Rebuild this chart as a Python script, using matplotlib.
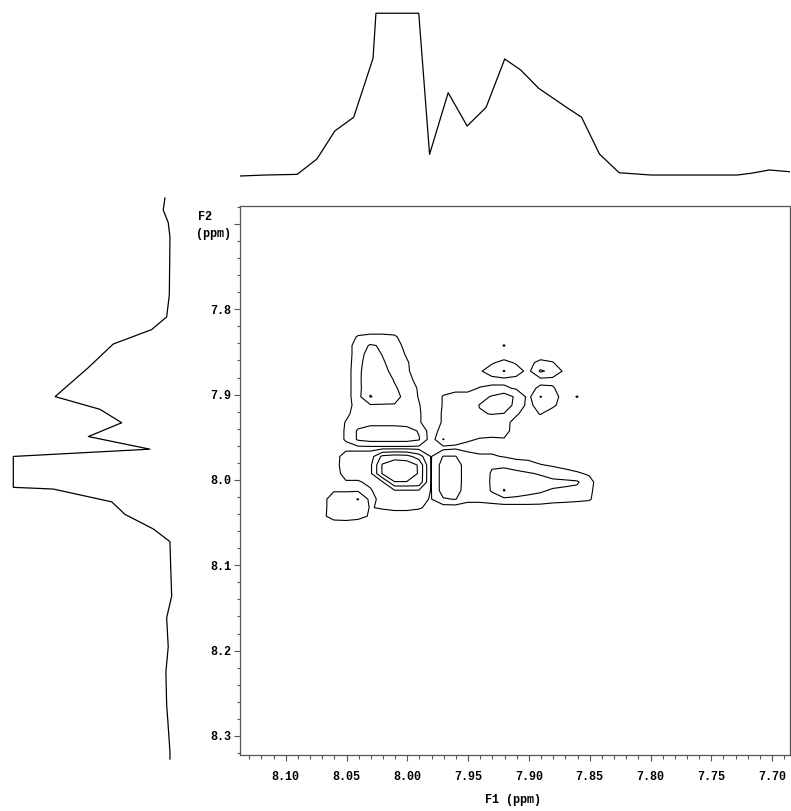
import numpy as np
import matplotlib
matplotlib.use("Agg")
import matplotlib.pyplot as plt
from matplotlib.ticker import MultipleLocator, FormatStrFormatter, FuncFormatter

# --- 2D spectrum: coarse intensity matrix (rows = F2, cols = F1) ---
f1_ppm = np.linspace(8.0705, 7.8305, 25)
f2_ppm = np.linspace(7.8125, 8.0625, 26)

rows = [
    "0 0 0 0 0 0 0 0 0 0 0 0 0 0 0 0 0 0 0 0 0 0 0 0 0",
    "0 0 0 0 0 0 0 0 0 0 0 0 0 0 0 0 0 0 0 0 0 0 0 0 0",
    "0 0 0 12 15 15 13 0 0 0 0 0 0 0 0 0 0 0 0 0 0 0 0 0 0",
    "0 0 0 20 32 28 24 0 0 0 0 0 0 0 0 11 0 0 0 0 0 0 0 0 0",
    "0 0 0 20 40 29 20 8 0 0 0 0 0 0 0 0 0 0 0 0 0 0 0 0 0",
    "0 0 0 22 44 33 20 12 0 0 0 0 0 0 8 15 8 5 15 11 0 0 0 0 0",
    "0 0 0 24 46 40 20 13 0 0 0 0 0 8 18 31 18 5 33 24 6 0 0 0 0",
    "0 0 0 24 48 45 28 20 0 0 0 0 0 3 5 5 5 5 5 5 3 0 0 0 0",
    "0 0 0 24 46 45 33 20 8 0 5 5 5 11 13 13 8 5 13 12 0 0 0 0 0",
    "0 0 0 24 51 44 40 20 9 0 11 16 16 22 32 42 26 5 31 20 0 11 0 0 0",
    "0 0 0 20 28 28 28 20 11 0 11 16 18 31 45 45 22 5 18 14 0 0 0 0 0",
    "0 0 6 18 20 20 20 18 12 0 12 15 16 28 31 29 12 3 11 0 0 0 0 0 0",
    "0 0 11 20 20 20 20 20 12 0 12 15 15 16 16 15 5 0 0 0 0 0 0 0 0",
    "0 0 12 33 45 45 45 40 28 0 18 18 16 16 16 15 4 0 0 0 0 0 0 0 0",
    "0 0 12 33 38 38 38 38 32 0 31 16 12 9 8 9 0 0 0 0 0 0 0 0 0",
    "0 0 4 4 4 4 4 4 4 3 4 7 5 5 5 4 0 0 0 0 0 0 0 0 0",
    "0 0 20 20 20 55 60 58 40 9 31 31 16 12 12 9 5 5 0 0 0 0 0 0 0",
    "0 0 22 22 25 72 85 82 68 9 40 42 18 18 28 26 20 16 11 8 5 3 0 0 0",
    "0 0 18 18 25 72 88 85 68 9 40 42 18 18 32 38 36 32 28 20 16 12 8 0 0",
    "0 0 8 8 14 28 69 69 66 9 40 42 18 16 33 45 42 40 38 36 35 33 16 0 0",
    "0 8 8 8 8 20 28 28 28 9 40 40 18 16 32 51 40 34 32 28 26 24 14 0 0",
    "0 23 22 31 5 15 20 20 14 9 28 31 16 16 20 26 26 26 24 18 16 14 12 0 0",
    "7 14 20 20 9 12 15 15 12 5 0 0 0 0 0 0 0 0 0 0 0 0 0 0 0",
    "5 18 20 16 8 0 0 0 0 0 0 0 0 0 0 0 0 0 0 0 0 0 0 0 0",
    "0 0 0 0 0 0 0 0 0 0 0 0 0 0 0 0 0 0 0 0 0 0 0 0 0",
    "0 0 0 0 0 0 0 0 0 0 0 0 0 0 0 0 0 0 0 0 0 0 0 0 0",
]
intensity = np.array([[float(v) for v in r.split()] for r in rows])
levels = [10, 30, 50, 70]

# --- F1 projection (top trace), clipped peak shown flat ---
proj_f1_ppm = [8.1376, 8.1170, 8.0906, 8.0744, 8.0596, 8.0441, 8.0282, 8.0258,
               7.9906, 7.9817, 7.9664, 7.9508, 7.9352, 7.9199, 7.9067, 7.8920,
               7.8699, 7.8567, 7.8420, 7.8258, 7.7994, 7.7288, 7.7170, 7.7023,
               7.6853]
proj_f1_val = [0.0, 0.6, 1.0, 10.4, 27.7, 36.1, 72.3, 100.0,
               100.0, 13.3, 51.2, 30.7, 42.2, 71.9, 65.1, 53.9,
               42.6, 36.1, 13.5, 2.0, 0.6, 0.6, 1.7, 3.7,
               2.6]

# --- F2 projection (left trace) ---
proj_f2_ppm = [7.6696, 7.6837, 7.6984, 7.7153, 7.7833, 7.8089, 7.8238, 7.8407,
               7.8683, 7.9023, 7.9172, 7.9329, 7.9491, 7.9639, 7.9724, 8.0086,
               8.0106, 8.0256, 8.0403, 8.0574, 8.0722, 8.0977, 8.1359, 8.1615,
               8.1955, 8.2250, 8.2634, 8.2888, 8.3186, 8.3269]
proj_f2_val = [3.2, 4.3, 1.1, 0.0, 0.4, 2.1, 11.7, 36.2,
               52.1, 73.3, 44.7, 30.8, 52.1, 12.8, 100.0, 100.0,
               74.5, 37.2, 28.7, 10.6, 0.0, -0.4, -1.1, 2.1,
               1.1, 2.6, 2.1, 1.1, 0.0, 0.0]

W, H = 791, 811
fig = plt.figure(figsize=(W / 100, H / 100), dpi=100)
mono = {"family": ["Liberation Mono", "DejaVu Sans Mono"], "weight": "bold", "size": 8.5}
frame_col = "#555555"

ax = fig.add_axes([240 / W, 1 - 755 / H, 550 / W, 549 / H])
X, Y = np.meshgrid(f1_ppm, f2_ppm)
ax.contour(X, Y, intensity, levels=levels, colors="black", linewidths=0.8)
ax.set_xlim(8.1376, 7.6853)
ax.set_ylim(8.3223, 7.679)

ax.xaxis.set_major_locator(MultipleLocator(0.05))
ax.xaxis.set_minor_locator(MultipleLocator(0.01))
ax.yaxis.set_major_locator(MultipleLocator(0.1))
ax.yaxis.set_minor_locator(MultipleLocator(0.02))
ax.xaxis.set_major_formatter(FormatStrFormatter("%.2f"))
# the top y tick sits beside the "(ppm)" unit label, so it carries no number
ax.yaxis.set_major_formatter(FuncFormatter(lambda v, p: "" if v < 7.75 else f"{v:.1f}"))
ax.tick_params(axis="both", which="both", direction="out", color=frame_col, width=0.8)
ax.tick_params(axis="x", which="major", length=4.5, pad=7)
ax.tick_params(axis="x", which="minor", length=2.8)
ax.tick_params(axis="y", which="major", length=4.5, pad=1.5)
ax.tick_params(axis="y", which="minor", length=2.5)
for lab in ax.get_xticklabels() + ax.get_yticklabels():
    lab.set_fontproperties(matplotlib.font_manager.FontProperties(**mono))
for sp in ax.spines.values():
    sp.set_color(frame_col)
    sp.set_linewidth(0.9)

fig.text(513 / W, 1 - 800 / H, "F1 (ppm)", ha="center", va="center", **mono)
fig.text(198 / W, 1 - 217 / H, "F2", ha="left", va="center", **mono)
fig.text(196 / W, 1 - 234 / H, "(ppm)", ha="left", va="center", **mono)

# top projection
axt = fig.add_axes([240 / W, 1 - 190 / H, 550 / W, 180 / H])
axt.plot(proj_f1_ppm, proj_f1_val, color="black", lw=0.9)
axt.set_xlim(8.1376, 7.6853)
axt.set_ylim(-8.6, 102.0)
axt.axis("off")

# left projection
axl = fig.add_axes([0, 1 - 762 / H, 190 / W, 567 / H])
axl.plot(proj_f2_val, proj_f2_ppm, color="black", lw=0.9)
axl.set_xlim(108.5, -12.8)
axl.set_ylim(8.3304, 7.6661)
axl.axis("off")

fig.savefig("out.png", dpi=100)
